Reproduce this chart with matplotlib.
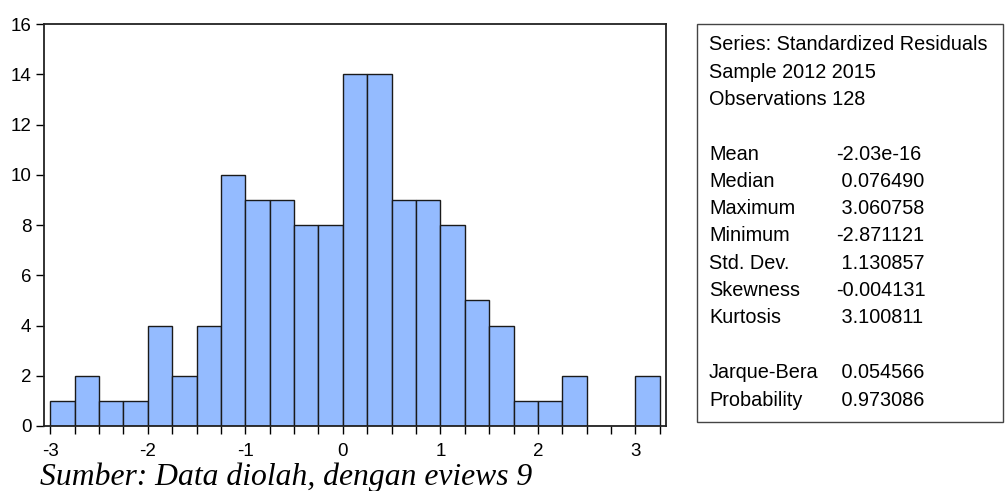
import numpy as np
import matplotlib.pyplot as plt
from matplotlib.ticker import MultipleLocator
from matplotlib.patches import Rectangle

# histogram of standardized residuals (bin width 0.25)
bin_left = np.arange(-3.0, 3.25, 0.25)
counts = [1, 2, 1, 1, 4, 2, 4, 10, 9, 9, 8, 8, 14, 14, 9, 9, 8, 5, 4, 1, 1, 2, 0, 0, 2]

header = ["Series: Standardized Residuals", "Sample 2012 2015", "Observations 128"]
stat_names = ["Mean", "Median", "Maximum", "Minimum", "Std. Dev.", "Skewness", "Kurtosis"]
stat_values = ["-2.03e-16", " 0.076490", " 3.060758", "-2.871121", " 1.130857", "-0.004131", " 3.100811"]
test_names = ["Jarque-Bera", "Probability"]
test_values = [" 0.054566", " 0.973086"]

plt.rcParams['font.family'] = ['Liberation Sans', 'DejaVu Sans']

fig = plt.figure(figsize=(10.06, 4.91), dpi=100)
ax = fig.add_axes([0.0437, 0.1324, 0.6185, 0.8186])

ax.bar(bin_left, counts, width=0.25, align='edge', color='#94bbff',
       edgecolor='#1a1a1a', linewidth=1.0)

ax.set_xlim(-3.065, 3.315)
ax.set_ylim(0, 16)
ax.xaxis.set_major_locator(MultipleLocator(1))
ax.xaxis.set_minor_locator(MultipleLocator(0.25))
ax.yaxis.set_major_locator(MultipleLocator(2))
ax.tick_params(axis='both', which='major', direction='out', length=6, width=1,
               labelsize=13.5, pad=3)
ax.tick_params(axis='x', which='major', pad=6)
ax.tick_params(axis='x', which='minor', direction='out', length=6, width=1)
ax.set_xticklabels([str(int(t)) if t == int(t) else '' for t in ax.get_xticks()])
for s in ax.spines.values():
    s.set_linewidth(1.3)
    s.set_color('#222222')

# statistics box
box = Rectangle((0.6928, 0.1405), 0.3042, 0.8105, transform=fig.transFigure,
                fill=False, edgecolor='#444444', linewidth=1.0)
fig.patches.append(box)

x_lab = 709 / 1006
x_val = 836 / 1006
fs = 14.3
def y_of(py):
    return 1 - py / 491

for i, t in enumerate(header):
    fig.text(x_lab, y_of(45 + i * 27.2), t, fontsize=fs, va='center', ha='left')
for i, (n, v) in enumerate(zip(stat_names, stat_values)):
    fig.text(x_lab, y_of(154 + i * 27.3), n, fontsize=fs, va='center', ha='left')
    fig.text(x_val, y_of(154 + i * 27.3), v, fontsize=fs, va='center', ha='left')
for i, (n, v) in enumerate(zip(test_names, test_values)):
    fig.text(x_lab, y_of(373 + i * 27.3), n, fontsize=fs, va='center', ha='left')
    fig.text(x_val, y_of(373 + i * 27.3), v, fontsize=fs, va='center', ha='left')

fig.text(40 / 1006, y_of(477), "Sumber: Data diolah, dengan eviews 9",
         fontsize=22.8, family='Liberation Serif', style='italic', va='center', ha='left')

fig.savefig('out.png', dpi=100)
